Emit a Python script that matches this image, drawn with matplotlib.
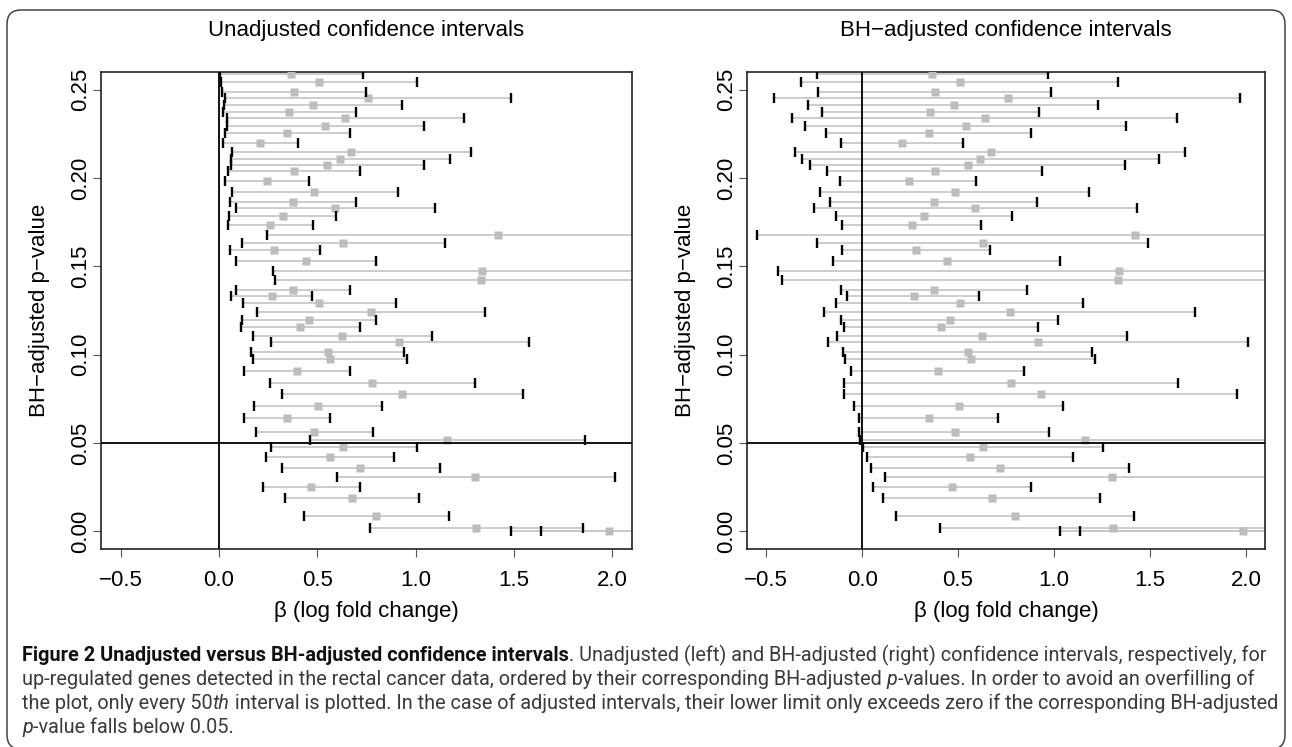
import matplotlib
matplotlib.use('Agg')
import matplotlib.pyplot as plt
from matplotlib.patches import FancyBboxPatch

W, H, DPI = 1292, 747, 100

# ---------------- data ----------------
pvalue = [0.2586, 0.2542, 0.2485, 0.2451, 0.2411, 0.2376, 0.2340, 0.2297, 0.2253, 0.2200,
          0.2150, 0.2110, 0.2074, 0.2040, 0.1985, 0.1920, 0.1863, 0.1829, 0.1783, 0.1732,
          0.1678, 0.1634, 0.1592, 0.1528, 0.1474, 0.1423, 0.1366, 0.1332, 0.1291, 0.1242,
          0.1198, 0.1157, 0.1104, 0.1074, 0.1017, 0.0975, 0.0908, 0.0838, 0.0780, 0.0710,
          0.0642, 0.0564, 0.0515, 0.0478, 0.0418, 0.0361, 0.0305, 0.0249, 0.0187, 0.0088,
          0.0019, 0.0004, 0.0003]

estimate = [0.366, 0.509, 0.379, 0.760, 0.479, 0.356, 0.642, 0.540, 0.347, 0.209,
            0.672, 0.616, 0.550, 0.382, 0.245, 0.484, 0.377, 0.590, 0.323, 0.259,
            1.420, 0.631, 0.282, 0.444, 1.339, 1.334, 0.377, 0.270, 0.509, 0.771,
            0.458, 0.413, 0.626, 0.916, 0.553, 0.565, 0.397, 0.778, 0.932, 0.504,
            0.347, 0.484, 1.161, 0.632, 0.562, 0.718, 1.304, 0.468, 0.678, 0.799,
            1.308, 1.985, 2.510]

unadj_lower = [0.003, 0.012, 0.014, 0.032, 0.024, 0.020, 0.041, 0.039, 0.029, 0.019,
               0.065, 0.063, 0.060, 0.044, 0.032, 0.066, 0.054, 0.087, 0.051, 0.044,
               0.245, 0.116, 0.054, 0.088, 0.277, 0.287, 0.085, 0.063, 0.124, 0.192,
               0.119, 0.112, 0.175, 0.262, 0.165, 0.173, 0.128, 0.259, 0.318, 0.179,
               0.128, 0.187, 0.463, 0.262, 0.240, 0.318, 0.599, 0.226, 0.338, 0.430,
               0.770, 1.483, 1.638]

unadj_upper = [0.730, 1.007, 0.747, 1.486, 0.932, 0.697, 1.245, 1.041, 0.668, 0.401,
               1.281, 1.177, 1.044, 0.718, 0.457, 0.908, 0.699, 1.100, 0.597, 0.478,
               2.600, 1.148, 0.512, 0.799, 2.410, 2.390, 0.667, 0.474, 0.898, 1.355,
               0.799, 0.718, 1.082, 1.577, 0.942, 0.956, 0.668, 1.303, 1.546, 0.830,
               0.566, 0.781, 1.861, 1.007, 0.888, 1.124, 2.014, 0.716, 1.019, 1.170,
               1.849, 2.490, 3.380]

adj_lower = [-0.235, -0.317, -0.232, -0.458, -0.282, -0.209, -0.364, -0.299, -0.187, -0.111,
             -0.348, -0.314, -0.273, -0.184, -0.114, -0.219, -0.166, -0.253, -0.134, -0.105,
             -0.549, -0.235, -0.103, -0.152, -0.439, -0.417, -0.111, -0.077, -0.137, -0.198,
             -0.111, -0.094, -0.132, -0.180, -0.100, -0.091, -0.057, -0.094, -0.094, -0.041,
             -0.018, -0.014, -0.009, 0.004, 0.023, 0.046, 0.121, 0.057, 0.109, 0.178,
             0.406, 1.135, 1.029]

adj_upper = [0.970, 1.333, 0.986, 1.968, 1.232, 0.920, 1.642, 1.374, 0.879, 0.528,
             1.684, 1.545, 1.371, 0.939, 0.595, 1.185, 0.913, 1.433, 0.779, 0.622,
             3.390, 1.488, 0.665, 1.034, 3.120, 3.090, 0.857, 0.610, 1.153, 1.736,
             1.023, 0.918, 1.381, 2.011, 1.200, 1.214, 0.845, 1.649, 1.952, 1.045,
             0.709, 0.975, 2.330, 1.255, 1.100, 1.390, 2.490, 0.879, 1.242, 1.415,
             2.210, 2.840, 3.990]

x_ticks = [-0.5, 0.0, 0.5, 1.0, 1.5, 2.0]
x_tick_labels = ['\u22120.5', '0.0', '0.5', '1.0', '1.5', '2.0']
y_ticks = [0.00, 0.05, 0.10, 0.15, 0.20, 0.25]
y_tick_labels = ['0.00', '0.05', '0.10', '0.15', '0.20', '0.25']

titles = ['Unadjusted confidence intervals', 'BH\u2212adjusted confidence intervals']
y_label = 'BH\u2212adjusted p\u2212value'
x_label = '\u03b2 (log fold change)'
threshold = 0.05

caption_lines = [
    [("Figure 2 Unadjusted versus BH-adjusted confidence intervals", 'bold', 'normal'),
     (". Unadjusted (left) and BH-adjusted (right) confidence intervals, respectively, for", 'normal', 'normal')],
    [("up-regulated genes detected in the rectal cancer data, ordered by their corresponding BH-adjusted ", 'normal', 'normal'),
     ("p", 'normal', 'italic'),
     ("-values. In order to avoid an overfilling of", 'normal', 'normal')],
    [("the plot, only every 50", 'normal', 'normal'),
     ("th", 'normal', 'italic'),
     (" interval is plotted. In the case of adjusted intervals, their lower limit only exceeds zero if the corresponding BH-adjusted", 'normal', 'normal')],
    [("p", 'normal', 'italic'),
     ("-value falls below 0.05.", 'normal', 'normal')],
]

# ---------------- figure ----------------
plt.rcParams['font.family'] = ['Liberation Sans', 'DejaVu Sans']
fig = plt.figure(figsize=(W / DPI, H / DPI), dpi=DPI)

# rounded frame around the figure (in inches -> isotropic corners)
frame = FancyBboxPatch((0.07, -0.02), 12.78, 7.39,
                       boxstyle='round,pad=0,rounding_size=0.14',
                       transform=fig.dpi_scale_trans, fill=False,
                       edgecolor='#444444', linewidth=1.1)
fig.add_artist(frame)

AX_TOP, AX_BOT = 72, 549
panels = [(101, 632, unadj_lower, unadj_upper, titles[0]),
          (747, 1265, adj_lower, adj_upper, titles[1])]

for left, right, lower, upper, title in panels:
    ax = fig.add_axes([left / W, 1 - AX_BOT / H, (right - left) / W, (AX_BOT - AX_TOP) / H])
    ax.set_xlim(-0.6, 2.1)
    ax.set_ylim(-0.01, 0.26)
    ax.hlines(pvalue, lower, upper, colors='#c8c8c8', linewidth=1.3, zorder=2)
    ax.plot(estimate, pvalue, ls='none', marker='s', ms=6.0, mfc='#bdbdbd', mec='none', zorder=3)
    ax.plot(lower, pvalue, ls='none', marker='|', ms=7.0, mew=1.7, color='black', zorder=4)
    ax.plot(upper, pvalue, ls='none', marker='|', ms=7.0, mew=1.7, color='black', zorder=4)
    ax.axvline(0, color='black', linewidth=1.3, zorder=5)
    ax.axhline(threshold, color='black', linewidth=1.3, zorder=5)

    ax.set_xticks(x_ticks)
    ax.set_xticklabels(x_tick_labels)
    ax.set_yticks(y_ticks)
    ax.set_yticklabels(y_tick_labels, rotation=90, va='center')
    ax.tick_params(direction='out', length=5.8, width=0.8, color='#555555',
                   labelsize=16, labelcolor='black')
    ax.tick_params(axis='x', pad=9)
    ax.tick_params(axis='y', pad=1)
    for s in ax.spines.values():
        s.set_linewidth(1.2)
        s.set_color('#222222')

    hpx = AX_BOT - AX_TOP
    wpx = right - left
    ax.text(0.5, (AX_BOT - 30) / hpx, title, transform=ax.transAxes,
            ha='center', va='center', fontsize=16)
    ax.set_xlabel(x_label, fontsize=16)
    ax.xaxis.set_label_coords(0.5, (AX_BOT - 612) / hpx)
    ax.xaxis.label.set_va('center')
    ax.set_ylabel(y_label, fontsize=16)
    ax.yaxis.set_label_coords(-61 / wpx, 0.5)
    ax.yaxis.label.set_va('center')

# ---------------- caption (runs of bold / italic text) ----------------
renderer = fig.canvas.get_renderer()
cap_family = ['Roboto', 'Liberation Sans']


def run_width(s, size, weight, style):
    t = fig.text(0, 0, s + '|', fontsize=size, fontweight=weight, fontstyle=style,
                 family=cap_family)
    w1 = t.get_window_extent(renderer).width
    t.remove()
    t = fig.text(0, 0, '|', fontsize=size, fontweight=weight, fontstyle=style,
                 family=cap_family)
    w2 = t.get_window_extent(renderer).width
    t.remove()
    return w1 - w2


def line_width(line, size):
    return sum(run_width(s, size, wt, st) for s, wt, st in line)


base = 12.0
targets = [1250.0, 1230.0, 1251.0]
cap_size = min(base * tw / line_width(caption_lines[i], base) for i, tw in enumerate(targets))

CAP_X = 22
baselines = [661, 685, 709, 733]
for line, yb in zip(caption_lines, baselines):
    x = CAP_X
    for s, wt, st in line:
        color = '#111111' if wt == 'bold' else '#3a3a3a'
        fig.text(x / W, 1 - yb / H, s, fontsize=cap_size, fontweight=wt, fontstyle=st,
                 family=cap_family, color=color, ha='left', va='baseline')
        x += run_width(s, cap_size, wt, st)

fig.savefig('out.png', dpi=DPI)
